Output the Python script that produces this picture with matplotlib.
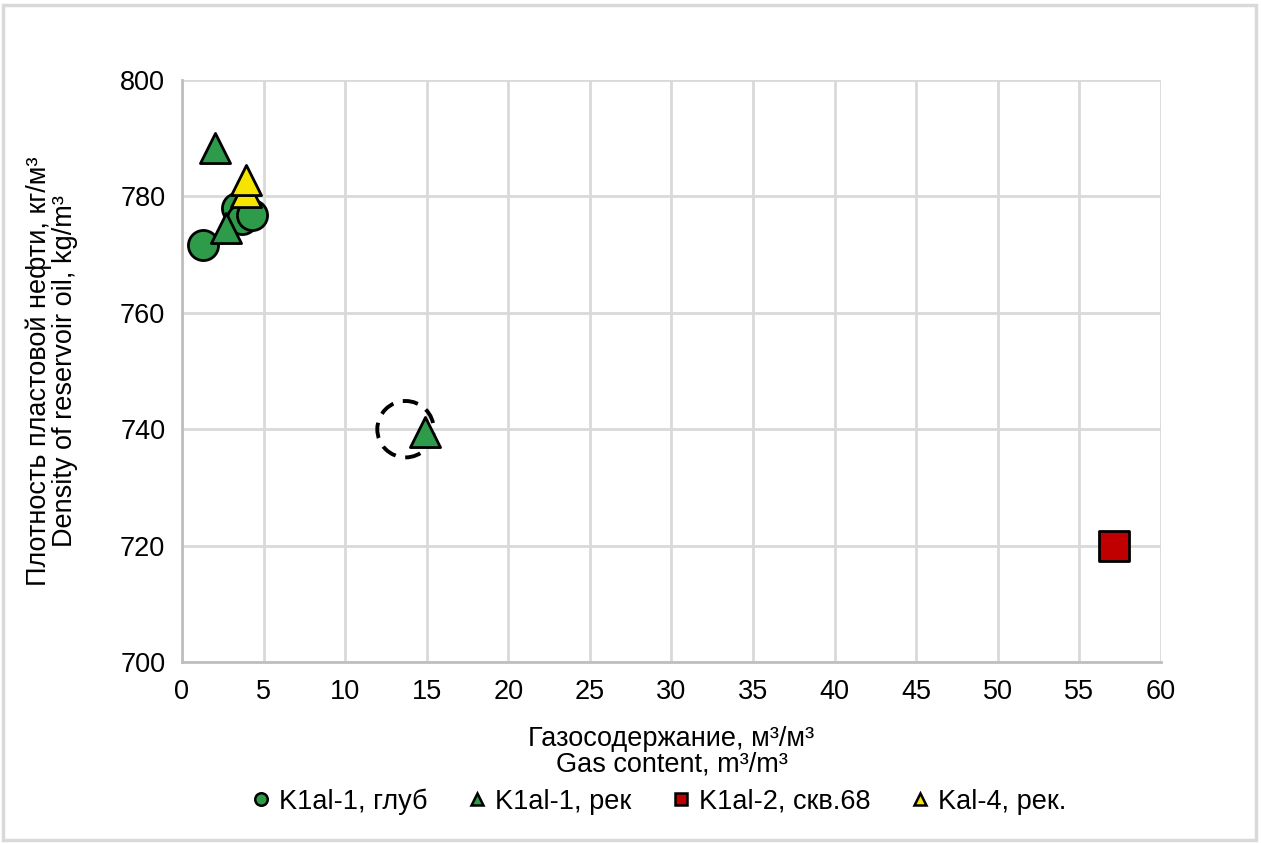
import matplotlib
matplotlib.use("Agg")
import matplotlib.pyplot as plt
from matplotlib.lines import Line2D
from matplotlib.patches import Rectangle

plt.rcParams['font.family'] = ['Liberation Sans', 'DejaVu Sans']

# data
glub_x = [1.3, 3.4, 3.7, 4.3]
glub_y = [771.7, 778.0, 776.2, 776.8]
rek_x = [2.0, 2.7, 14.9]
rek_y = [788.3, 774.5, 739.6]
skv68_x = [57.1]
skv68_y = [720.0]
kal4_x = [3.9, 3.9]
kal4_y = [780.8, 782.8]
mark_x = [13.7]   # dashed highlight ring
mark_y = [740.0]

x_ticks = list(range(0, 61, 5))
y_ticks = list(range(700, 801, 20))

green = '#2E9B4A'
red = '#C00000'
yellow = '#F5E400'
fs = 19.5

fig = plt.figure(figsize=(12.61, 8.43), dpi=100)
ax = fig.add_axes([0.1443, 0.2147, 0.7764, 0.6904])

ax.scatter(glub_x, glub_y, s=470, marker='o', facecolor=green, edgecolor='black', linewidth=2, zorder=3)
ax.scatter(rek_x, rek_y, s=470, marker='^', facecolor=green, edgecolor='black', linewidth=2, zorder=4)
ax.scatter(skv68_x, skv68_y, s=470, marker='s', facecolor=red, edgecolor='black', linewidth=2, zorder=5)
ax.scatter(kal4_x, kal4_y, s=470, marker='^', facecolor=yellow, edgecolor='black', linewidth=2, zorder=6)
ax.scatter(mark_x, mark_y, s=1650, marker='o', facecolor='none', edgecolor='black',
           linewidth=2.8, linestyles=(0, (4, 2.5)), zorder=2)

ax.set_xlim(0, 60)
ax.set_ylim(700, 800)
ax.set_xticks(x_ticks)
ax.set_yticks(y_ticks)
ax.grid(True, color='#d9d9d9', linewidth=2)
ax.set_axisbelow(True)
for side in ['top', 'right']:
    ax.spines[side].set_visible(False)
for side in ['left', 'bottom']:
    ax.spines[side].set_color('#bfbfbf')
    ax.spines[side].set_linewidth(2)
ax.tick_params(length=0, labelsize=fs, colors='#000000')
ax.tick_params(axis='x', pad=12)
ax.tick_params(axis='y', pad=12)

ax.set_xlabel('Газосодержание, м³/м³\nGas content, m³/m³', fontsize=fs, labelpad=15, linespacing=1.0)
ax.set_ylabel('Плотность пластовой нефти, кг/м³\nDensity of reservoir oil, kg/m³', fontsize=fs,
              labelpad=30, linespacing=1.0)

handles = [
    Line2D([], [], marker='o', ls='none', ms=9, mfc=green, mec='black', mew=1.8),
    Line2D([], [], marker='^', ls='none', ms=9, mfc=green, mec='black', mew=1.8),
    Line2D([], [], marker='s', ls='none', ms=9, mfc=red, mec='black', mew=1.8),
    Line2D([], [], marker='^', ls='none', ms=9, mfc=yellow, mec='black', mew=1.8),
]
labels = ['K1al-1, глуб', 'K1al-1, рек', 'K1al-2, скв.68', 'Kal-4, рек.']
fig.legend(handles, labels, loc='center', bbox_to_anchor=(0.522, 0.049), ncol=4, frameon=False,
           fontsize=fs, handletextpad=0.25, columnspacing=1.45, handlelength=0.8)

# outer chart border
fig.patches.append(Rectangle((0.002, 0.004), 0.994, 0.99, transform=fig.transFigure,
                             fill=False, edgecolor='#d9d9d9', linewidth=2.5))

fig.savefig('out.png', dpi=100)
